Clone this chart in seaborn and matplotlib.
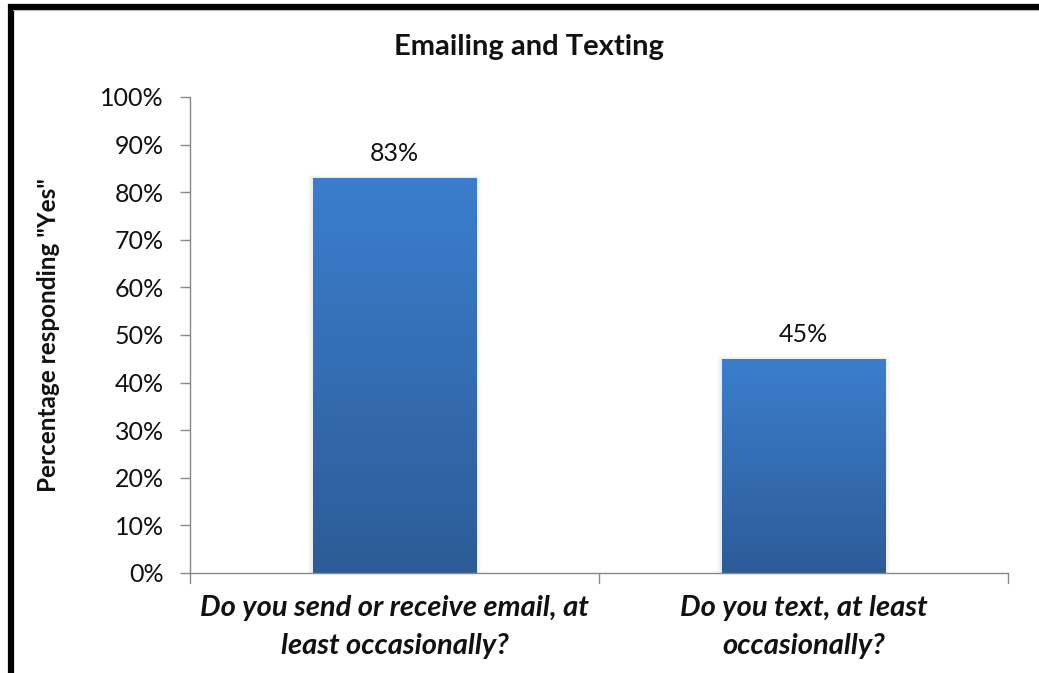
import numpy as np
import pandas as pd
import matplotlib
matplotlib.use("Agg")
import matplotlib.pyplot as plt
from matplotlib.colors import LinearSegmentedColormap
from matplotlib.lines import Line2D
import seaborn as sns

# Survey results
questions = [
    "Do you send or receive email, at\nleast occasionally?",
    "Do you text, at least\noccasionally?",
]
pct_yes = [83, 45]
y_ticks = [0, 10, 20, 30, 40, 50, 60, 70, 80, 90, 100]
y_tick_labels = [f"{v}%" for v in y_ticks]

df = pd.DataFrame({"question": questions, "pct": pct_yes})

sns.set_theme(style="white")
plt.rcParams["font.family"] = ["Lato", "DejaVu Sans"]

fig = plt.figure(figsize=(10.39, 6.73), dpi=100)
ax = fig.add_axes([190 / 1039, 1 - 573 / 673, (1008 - 190) / 1039, (573 - 97) / 673])

sns.barplot(data=df, x="question", y="pct", ax=ax, width=0.4,
            color="#3570B8", edgecolor="none", linewidth=0, zorder=2)

# Vertical gradient fill for each bar
grad_cmap = LinearSegmentedColormap.from_list("bar_grad", ["#2C5C97", "#3B7ECD"])
grad = np.linspace(0, 1, 256).reshape(-1, 1)
for patch in ax.patches:
    x0, y0 = patch.get_x(), patch.get_y()
    w, h = patch.get_width(), patch.get_height()
    # soft drop shadow
    for k, a in enumerate([0.035, 0.025, 0.015]):
        d = 0.004 * (k + 1)
        ax.add_patch(plt.Rectangle((x0 - d, y0), w + 2 * d, h + 0.2 * (k + 1),
                                   facecolor="black", alpha=a, edgecolor="none", zorder=1))
    im = ax.imshow(grad, extent=[x0, x0 + w, y0, y0 + h], origin="lower",
                   aspect="auto", cmap=grad_cmap, zorder=3, interpolation="bicubic")
    im.set_clip_path(patch)
    ax.text(x0 + w / 2, y0 + h + 5.2, f"{pct_yes[int(round(x0 + w / 2))]}%",
            ha="center", va="center", fontsize=18, color="#111111")

ax.set_xlim(-0.5, 1.5)
ax.set_ylim(0, 100)
ax.set_yticks(y_ticks)
ax.set_yticklabels(y_tick_labels)
ax.set_xticks([0, 1])
ax.set_xticklabels(questions, fontsize=21, fontweight="bold", fontstyle="italic",
                   color="#111111", linespacing=1.55)
ax.tick_params(axis="x", length=0, pad=16)
ax.tick_params(axis="y", length=7, width=1, color="#888888", direction="out",
               labelsize=18, labelcolor="#111111", pad=12, left=True)

# category separators on the x axis
for xt in [-0.5, 0.5, 1.5]:
    ax.plot([xt, xt], [0, -2.2], color="#888888", lw=1, clip_on=False, zorder=4)

for side in ["top", "right"]:
    ax.spines[side].set_visible(False)
for side in ["left", "bottom"]:
    ax.spines[side].set_color("#888888")
    ax.spines[side].set_linewidth(1)
ax.spines["bottom"].set_zorder(5)

ax.set_xlabel("")
ax.set_ylabel('Percentage responding "Yes"', fontsize=17.5, fontweight="bold",
              color="#111111", labelpad=29)
fig.text(529 / 1039, 1 - 47 / 673, "Emailing and Texting", fontsize=21,
         fontweight="bold", color="#111111", ha="center", va="center")

# outer frame
fig.add_artist(Line2D([8 / 1039, 1.0], [1 - 6.5 / 673, 1 - 6.5 / 673],
                      transform=fig.transFigure, color="black", lw=4.5,
                      solid_capstyle="butt"))
fig.add_artist(Line2D([10.5 / 1039, 10.5 / 1039], [0, 1 - 4 / 673],
                      transform=fig.transFigure, color="black", lw=4.5,
                      solid_capstyle="butt"))
fig.add_artist(Line2D([13 / 1039, 1.0], [1 - 9.8 / 673, 1 - 9.8 / 673],
                      transform=fig.transFigure, color="#BBBBBB", lw=0.8))

fig.savefig("out.png", dpi=100)
